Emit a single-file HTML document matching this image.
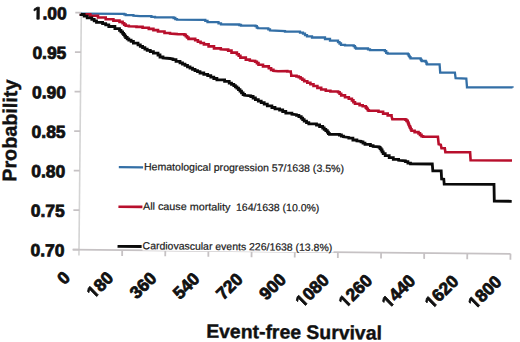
<!DOCTYPE html>
<html><head><meta charset="utf-8"><style>
html,body{margin:0;padding:0;background:#fff;}
svg{display:block;}
text{font-family:"Liberation Sans",sans-serif;text-rendering:geometricPrecision;}
</style></head><body>
<svg width="520" height="342" viewBox="0 0 520 342">
<rect width="520" height="342" fill="#fff"/>
<g transform="rotate(0.56 79 249.6)">
<g stroke="#c6c2c4" stroke-width="1.8" fill="none">
<line x1="79" y1="12.1" x2="79" y2="255.5" stroke="#d4d4d4" stroke-width="1.6"/>
<line x1="72.5" y1="249.6" x2="510.5" y2="249.6" />
<line x1="73" y1="12.6" x2="79" y2="12.6" />
<line x1="73" y1="52.1" x2="79" y2="52.1" />
<line x1="73" y1="91.6" x2="79" y2="91.6" />
<line x1="73" y1="131.1" x2="79" y2="131.1" />
<line x1="73" y1="170.6" x2="79" y2="170.6" />
<line x1="73" y1="210.1" x2="79" y2="210.1" />
<line x1="73" y1="249.6" x2="79" y2="249.6" />
<line x1="122.2" y1="249.6" x2="122.2" y2="255.5" />
<line x1="165.3" y1="249.6" x2="165.3" y2="255.5" />
<line x1="208.4" y1="249.6" x2="208.4" y2="255.5" />
<line x1="251.6" y1="249.6" x2="251.6" y2="255.5" />
<line x1="294.8" y1="249.6" x2="294.8" y2="255.5" />
<line x1="337.9" y1="249.6" x2="337.9" y2="255.5" />
<line x1="381.1" y1="249.6" x2="381.1" y2="255.5" />
<line x1="424.2" y1="249.6" x2="424.2" y2="255.5" />
<line x1="467.3" y1="249.6" x2="467.3" y2="255.5" />
<line x1="510.5" y1="249.6" x2="510.5" y2="255.5" />
</g>
<g font-weight="bold" font-size="17.4" fill="#111" stroke="#111" stroke-width="0.8">
<text x="64.4" y="19.6" text-anchor="end">&#8199;.00</text>
<path d="M34.60,19.60 L34.60,9.66 L31.72,11.45 L31.72,9.57 L34.72,7.63 L36.98,7.63 L36.98,19.60Z"/>
<text x="64.4" y="59.1" text-anchor="end">0.95</text>
<text x="64.4" y="98.6" text-anchor="end">0.90</text>
<text x="64.4" y="138.1" text-anchor="end">0.85</text>
<text x="64.4" y="177.6" text-anchor="end">0.80</text>
<text x="64.4" y="217.1" text-anchor="end">0.75</text>
<text x="64.4" y="256.6" text-anchor="end">0.70</text>
<g transform="translate(67.3,274.5) rotate(-45)"><text x="0" y="6" text-anchor="end">0</text></g>
<g transform="translate(110.5,274.5) rotate(-45)"><text x="0" y="6" text-anchor="end">&#8199;80</text><path d="M-24.97,6.00 L-24.97,-3.94 L-27.84,-2.15 L-27.84,-4.03 L-24.84,-5.97 L-22.58,-5.97 L-22.58,6.00Z"/></g>
<g transform="translate(153.6,274.5) rotate(-45)"><text x="0" y="6" text-anchor="end">360</text></g>
<g transform="translate(196.8,274.5) rotate(-45)"><text x="0" y="6" text-anchor="end">540</text></g>
<g transform="translate(239.9,274.5) rotate(-45)"><text x="0" y="6" text-anchor="end">720</text></g>
<g transform="translate(283.1,274.5) rotate(-45)"><text x="0" y="6" text-anchor="end">900</text></g>
<g transform="translate(326.2,274.5) rotate(-45)"><text x="0" y="6" text-anchor="end">&#8199;080</text><path d="M-34.65,6.00 L-34.65,-3.94 L-37.52,-2.15 L-37.52,-4.03 L-34.52,-5.97 L-32.26,-5.97 L-32.26,6.00Z"/></g>
<g transform="translate(369.4,274.5) rotate(-45)"><text x="0" y="6" text-anchor="end">&#8199;260</text><path d="M-34.65,6.00 L-34.65,-3.94 L-37.52,-2.15 L-37.52,-4.03 L-34.52,-5.97 L-32.26,-5.97 L-32.26,6.00Z"/></g>
<g transform="translate(412.5,274.5) rotate(-45)"><text x="0" y="6" text-anchor="end">&#8199;440</text><path d="M-34.65,6.00 L-34.65,-3.94 L-37.52,-2.15 L-37.52,-4.03 L-34.52,-5.97 L-32.26,-5.97 L-32.26,6.00Z"/></g>
<g transform="translate(455.6,274.5) rotate(-45)"><text x="0" y="6" text-anchor="end">&#8199;620</text><path d="M-34.65,6.00 L-34.65,-3.94 L-37.52,-2.15 L-37.52,-4.03 L-34.52,-5.97 L-32.26,-5.97 L-32.26,6.00Z"/></g>
<g transform="translate(498.8,274.5) rotate(-45)"><text x="0" y="6" text-anchor="end">&#8199;800</text><path d="M-34.65,6.00 L-34.65,-3.94 L-37.52,-2.15 L-37.52,-4.03 L-34.52,-5.97 L-32.26,-5.97 L-32.26,6.00Z"/></g>
</g>
<text transform="translate(15.5,182.4) rotate(-90)" font-weight="bold" font-size="19.8" fill="#111" stroke="#111" stroke-width="0.4">Probability</text>
<text x="207" y="336.6" font-weight="bold" font-size="19.4" fill="#111" stroke="#111" stroke-width="0.4">Event-free Survival</text>
</g>
<g fill="none" stroke-linejoin="miter" stroke-linecap="butt">
<polyline points="81.0,13.7 124.2,13.9 124.2,14.4 125.7,14.4 125.7,14.9 125.7,15.2 133.4,15.2 133.4,15.6 140.0,16.1 151.4,16.1 151.4,16.8 155.0,16.8 155.0,17.4 173.6,17.4 173.6,18.0 175.3,18.0 175.3,19.1 177.0,19.1 177.0,19.7 205.3,19.9 205.3,20.9 207.5,20.9 207.5,22.0 218.5,22.2 218.5,23.3 221.0,23.3 221.0,24.4 239.3,24.5 239.3,25.0 241.0,25.0 241.0,25.5 255.5,25.6 255.5,26.2 256.8,26.2 256.8,27.6 258.0,27.6 258.0,28.2 268.3,28.4 268.3,29.4 270.0,29.4 270.0,30.5 285.0,31.0 285.0,31.7 300.0,31.7 300.0,32.4 300.0,32.7 303.0,32.7 303.0,33.0 303.0,33.7 305.0,33.7 305.0,35.2 307.0,35.2 307.0,35.9 307.0,36.3 312.0,36.3 312.0,36.8 312.0,37.5 325.0,37.5 325.0,38.2 325.0,39.0 330.0,39.0 330.0,39.9 330.0,40.7 338.0,40.7 338.0,41.5 338.0,42.2 339.5,42.2 339.5,43.5 341.0,43.5 341.0,44.2 341.0,44.8 345.0,44.8 345.0,45.4 353.7,45.4 353.7,46.2 354.9,46.2 354.9,47.7 356.0,47.7 356.0,48.5 368.0,48.5 368.0,49.4 370.0,49.4 370.0,50.2 384.9,50.2 384.9,51.1 386.2,51.1 386.2,52.8 387.6,52.8 387.6,53.6 407.9,53.6 407.9,54.3 408.8,54.3 408.8,55.8 409.6,55.8 409.6,57.2 410.5,57.2 410.5,57.9 410.5,58.3 420.6,58.3 420.6,58.7 420.6,59.3 421.2,59.3 421.2,60.4 421.9,60.4 421.9,61.0 425.7,61.0 425.7,61.8 426.4,61.8 426.4,63.5 427.0,63.5 427.0,64.3 439.6,64.3 440.2,72.6 454.9,72.6 455.6,78.2 466.3,78.5 467.0,87.1 467.0,87.4 512.5,87.4 512.5,87.8" stroke="#336fa6" stroke-width="2.3"/>
<polyline points="81.0,13.7 81.0,14.4 90.3,14.4 90.3,15.1 90.3,15.8 98.0,15.8 98.0,16.5 98.0,17.5 105.7,17.5 105.7,18.5 105.7,19.2 113.4,19.2 113.4,20.0 113.4,20.6 119.5,20.6 119.5,21.1 119.5,21.9 122.6,21.9 122.6,22.6 122.6,23.2 124.2,23.2 124.2,24.6 125.7,24.6 125.7,25.2 125.7,25.7 128.8,25.7 128.8,26.2 136.5,26.5 136.5,26.9 142.6,26.9 142.6,27.2 142.6,27.8 148.8,27.8 148.8,28.3 148.8,28.9 153.4,28.9 153.4,29.5 153.4,30.1 158.0,30.1 158.0,30.8 158.0,31.5 164.5,31.5 164.5,32.3 164.5,33.0 170.0,33.0 170.0,33.6 178.0,34.1 184.4,34.3 184.4,34.9 185.8,34.9 185.8,36.2 187.1,36.2 187.1,37.5 188.5,37.5 188.5,38.1 188.5,38.9 195.2,38.9 195.2,39.6 195.2,40.3 197.9,40.3 197.9,41.8 200.6,41.8 200.6,42.5 200.6,43.0 203.9,43.0 203.9,43.5 203.9,44.4 208.6,44.4 208.6,45.3 208.6,46.4 214.0,46.4 214.0,47.5 214.0,48.4 220.8,48.4 220.8,49.3 228.2,49.6 228.2,50.6 231.5,50.6 231.5,51.6 231.5,52.6 236.9,52.6 236.9,53.6 236.9,54.3 238.7,54.3 238.7,55.8 240.4,55.8 240.4,56.5 240.4,57.6 245.8,57.6 245.8,58.7 245.8,59.6 249.8,59.6 249.8,60.5 255.2,61.0 255.2,61.7 256.9,61.7 256.9,63.1 258.5,63.1 258.5,63.8 258.5,64.7 263.0,64.7 263.0,65.6 263.0,66.4 268.8,66.4 268.8,67.3 268.8,68.2 271.1,68.2 271.1,69.9 273.4,69.9 273.4,70.8 278.0,71.3 287.3,71.1 287.3,71.5 290.7,71.5 290.7,71.9 291.3,74.8 291.3,75.7 296.5,75.7 296.5,76.5 298.8,76.5 298.8,77.2 300.6,77.2 300.6,78.5 302.4,78.5 302.4,79.8 304.2,79.8 304.2,80.5 304.2,81.3 307.3,81.3 307.3,82.8 310.4,82.8 310.4,84.3 313.5,84.3 313.5,85.1 313.5,86.0 317.4,86.0 317.4,87.9 321.2,87.9 321.2,88.8 321.2,89.5 325.8,89.5 325.8,90.8 330.4,90.8 330.4,91.5 338.1,91.5 338.1,92.3 339.6,92.3 339.6,93.8 341.2,93.8 341.2,94.6 341.2,95.4 345.0,95.4 345.0,97.2 348.8,97.2 348.8,98.0 348.8,98.8 351.9,98.8 351.9,99.5 351.9,100.4 353.4,100.4 353.4,102.2 355.0,102.2 355.0,103.1 355.0,103.8 359.6,103.8 359.6,104.6 359.6,105.2 362.7,105.2 362.7,106.3 365.8,106.3 365.8,106.9 365.8,107.6 366.8,107.6 366.8,108.8 367.8,108.8 367.8,110.2 368.8,110.2 368.8,110.8 378.5,110.8 378.5,111.7 383.1,111.7 383.1,112.6 383.1,113.6 387.7,113.6 387.7,114.6 387.7,115.4 391.5,115.4 391.5,116.2 392.3,119.2 405.4,119.2 405.4,119.8 406.5,119.8 406.5,120.9 407.7,120.9 407.7,121.5 407.7,122.2 408.2,122.2 408.2,123.5 408.7,123.5 408.7,124.8 409.2,124.8 409.2,125.4 409.2,126.2 410.0,126.2 410.0,127.7 410.7,127.7 410.7,129.2 411.5,129.2 411.5,130.0 411.5,130.8 414.6,130.8 414.6,131.5 414.6,132.1 418.5,132.1 418.5,132.6 418.5,133.4 420.0,133.4 420.0,134.9 421.5,134.9 421.5,135.7 421.5,136.2 423.1,136.2 423.1,136.7 437.9,136.8 438.7,144.3 440.8,144.8 441.5,148.2 444.8,148.2 445.4,152.3 470.1,152.3 470.6,160.2 512.0,160.5" stroke="#b80f2c" stroke-width="2.6"/>
<polyline points="81.0,13.7 81.0,14.5 84.1,14.5 84.1,16.2 87.2,16.2 87.2,17.0 87.2,17.8 91.8,17.8 91.8,18.6 91.8,19.4 94.2,19.4 94.2,20.9 96.5,20.9 96.5,21.6 96.5,22.4 102.6,22.4 102.6,23.1 102.6,23.7 105.7,23.7 105.7,24.8 108.8,24.8 108.8,25.4 108.8,26.5 114.9,26.5 114.9,27.6 114.9,28.6 119.5,28.6 119.5,29.5 119.5,30.3 121.0,30.3 121.0,31.8 122.6,31.8 122.6,32.6 122.6,33.3 123.6,33.3 123.6,34.7 124.7,34.7 124.7,36.1 125.7,36.1 125.7,36.8 125.7,37.5 127.2,37.5 127.2,38.8 128.8,38.8 128.8,39.5 128.8,40.1 131.1,40.1 131.1,41.4 133.4,41.4 133.4,42.0 133.4,43.1 138.0,43.1 138.0,44.2 138.0,44.9 140.3,44.9 140.3,46.3 142.6,46.3 142.6,47.0 142.6,47.7 144.9,47.7 144.9,49.1 147.2,49.1 147.2,49.8 147.2,50.4 150.3,50.4 150.3,51.6 153.4,51.6 153.4,52.2 153.4,53.2 158.0,53.2 158.0,54.1 158.0,55.0 160.0,55.0 160.0,56.0 160.0,57.0 163.0,57.0 163.0,58.0 170.0,58.5 173.0,59.0 173.0,59.7 176.0,59.7 176.0,60.4 176.0,61.3 180.0,61.3 180.0,62.3 180.0,62.9 182.5,62.9 182.5,64.1 185.0,64.1 185.0,64.7 185.0,65.4 187.5,65.4 187.5,66.9 190.0,66.9 190.0,67.6 190.0,68.2 192.5,68.2 192.5,69.4 195.0,69.4 195.0,70.0 195.0,70.6 197.5,70.6 197.5,71.7 200.0,71.7 200.0,72.3 200.0,73.0 203.8,73.0 203.8,74.3 207.7,74.3 207.7,75.0 207.7,75.7 210.8,75.7 210.8,77.1 213.8,77.1 213.8,77.8 213.8,78.5 216.9,78.5 216.9,79.3 216.9,79.8 224.6,79.8 224.6,80.4 224.6,81.4 229.2,81.4 229.2,82.4 229.2,83.1 231.5,83.1 231.5,84.3 233.8,84.3 233.8,85.0 233.8,85.6 235.4,85.6 235.4,86.9 236.9,86.9 236.9,88.2 238.5,88.2 238.5,88.8 238.5,89.6 240.0,89.6 240.0,91.1 241.5,91.1 241.5,91.9 241.5,92.8 243.1,92.8 243.1,94.5 244.6,94.5 244.6,95.3 250.8,95.8 250.8,96.5 253.1,96.5 253.1,98.0 255.4,98.0 255.4,98.8 255.4,99.6 258.3,99.6 258.3,101.1 261.2,101.1 261.2,101.9 261.2,102.7 264.2,102.7 264.2,104.2 267.3,104.2 267.3,105.0 267.3,105.8 271.9,105.8 271.9,106.5 271.9,107.5 275.0,107.5 275.0,108.5 275.0,108.8 279.6,108.8 279.6,109.2 279.6,110.0 282.7,110.0 282.7,111.5 285.8,111.5 285.8,112.2 285.8,113.2 291.9,113.2 291.9,114.2 296.5,114.7 296.5,115.3 298.9,115.3 298.9,116.7 301.2,116.7 301.2,117.3 301.2,118.1 302.7,118.1 302.7,119.6 304.2,119.6 304.2,120.4 304.2,121.2 306.5,121.2 306.5,122.7 308.8,122.7 308.8,123.5 308.8,123.8 316.5,123.8 316.5,124.2 316.5,125.0 319.6,125.0 319.6,126.5 322.7,126.5 322.7,127.3 322.7,128.0 324.2,128.0 324.2,129.3 325.8,129.3 325.8,130.7 327.3,130.7 327.3,131.4 327.3,132.2 328.4,132.2 328.4,133.7 329.5,133.7 329.5,134.4 339.4,134.4 339.4,135.0 341.4,135.0 341.4,136.2 343.5,136.2 343.5,136.8 348.8,137.4 348.8,138.2 352.9,138.2 352.9,139.1 352.9,140.0 356.9,140.0 356.9,140.9 361.0,141.2 361.0,141.8 363.0,141.8 363.0,143.2 365.0,143.2 365.0,143.8 365.0,144.4 370.4,144.4 370.4,144.9 370.4,145.7 373.1,145.7 373.1,146.5 379.1,146.8 379.1,147.4 380.1,147.4 380.1,148.6 381.1,148.6 381.1,149.2 381.1,150.0 382.1,150.0 382.1,151.8 383.2,151.8 383.2,152.6 383.2,153.6 385.2,153.6 385.2,154.6 385.2,155.6 389.2,155.6 389.2,156.6 389.2,157.6 393.3,157.6 393.3,158.6 393.3,159.4 398.6,159.4 398.6,160.3 405.4,160.9 405.4,161.6 407.9,161.6 407.9,163.1 410.5,163.1 410.5,163.8 432.3,164.0 432.8,170.9 441.2,170.9 441.6,179.0 443.8,179.2 444.2,184.2 494.0,184.3 494.3,201.0 511.7,201.3" stroke="#0a0a0a" stroke-width="2.8"/>
</g>
<g transform="rotate(0.56 79 249.6)">
<rect x="142.5" y="238" width="191" height="12.0" fill="#fff"/>
<g font-size="10.4" fill="#1a1a1a" stroke="#1a1a1a" stroke-width="0.2">
<line x1="118" y1="166.7" x2="142.3" y2="166.7" stroke="#336fa6" stroke-width="2.3"/>
<text x="143.2" y="169.5" textLength="200" lengthAdjust="spacingAndGlyphs">Hematological progression 57/1638 (3.5%)</text>
<line x1="118" y1="206.3" x2="142" y2="206.3" stroke="#b80f2c" stroke-width="2.6"/>
<text x="142.6" y="209.1" textLength="87.4" lengthAdjust="spacingAndGlyphs">All cause mortality</text>
<text x="235.6" y="209.1" textLength="83.3" lengthAdjust="spacingAndGlyphs">164/1638 (10.0%)</text>
<line x1="117.5" y1="245.9" x2="141.6" y2="245.9" stroke="#0a0a0a" stroke-width="2.8"/>
<text x="142.6" y="248.6" textLength="189.6" lengthAdjust="spacingAndGlyphs">Cardiovascular events 226/1638 (13.8%)</text>
</g>
</g>
</svg>
</body></html>
